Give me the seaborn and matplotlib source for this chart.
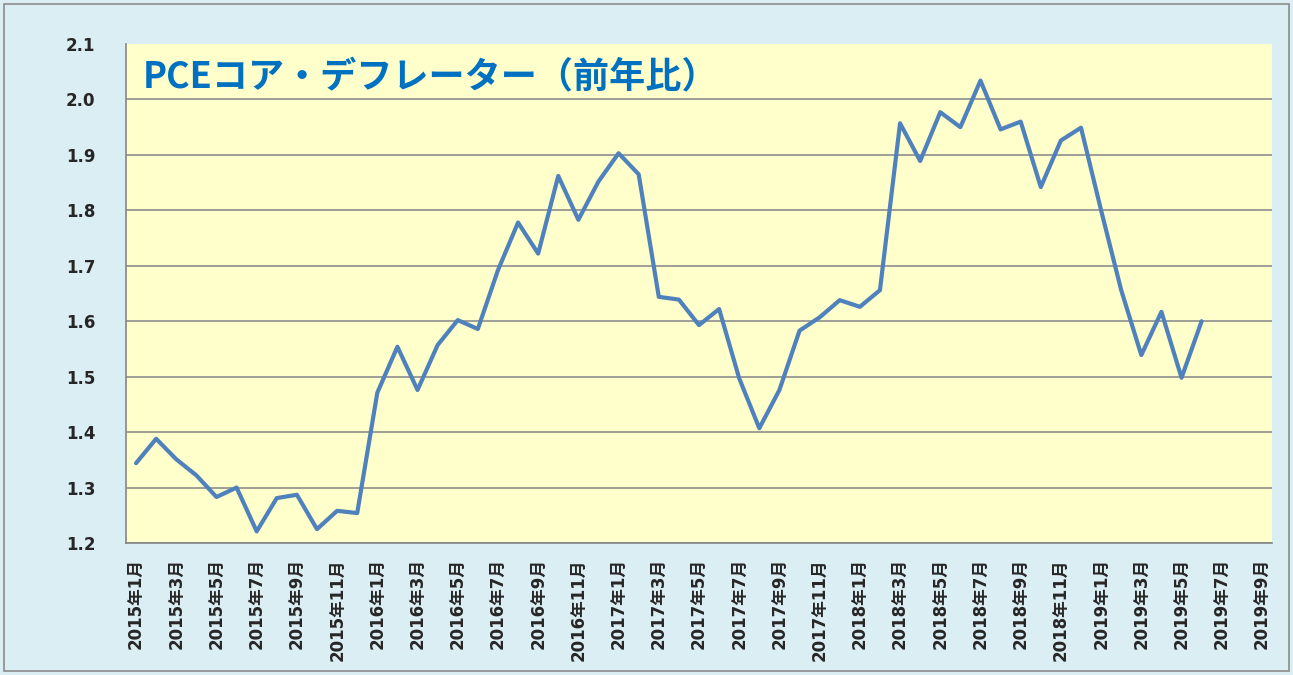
import numpy as np
import pandas as pd
import matplotlib
matplotlib.use("Agg")
import matplotlib.pyplot as plt
from matplotlib.patches import Rectangle
import seaborn as sns

TITLE = "PCEコア・デフレーター（前年比）"

# categories: monthly, 2015年1月 .. 2019年9月
years = [2015, 2016, 2017, 2018, 2019]
months = [f"{y}年{m}月" for y in years for m in range(1, 13)][:57]

# PCE core deflator, y/y % (2015-01 .. 2019-06)
pce_core = [
    1.344, 1.388, 1.351, 1.322, 1.283, 1.300, 1.221, 1.281, 1.287, 1.225, 1.258, 1.254,  # 2015
    1.471, 1.554, 1.476, 1.557, 1.602, 1.586, 1.692, 1.778, 1.722, 1.862, 1.783, 1.852,  # 2016
    1.903, 1.865, 1.644, 1.639, 1.593, 1.622, 1.497, 1.407, 1.476, 1.583, 1.607, 1.638,  # 2017
    1.626, 1.656, 1.957, 1.889, 1.977, 1.950, 2.034, 1.946, 1.960, 1.842, 1.926, 1.949,  # 2018
    1.800, 1.656, 1.539, 1.617, 1.498, 1.600,                                              # 2019
]

y_ticks = [1.2, 1.3, 1.4, 1.5, 1.6, 1.7, 1.8, 1.9, 2.0, 2.1]

BG = "#dbeef4"
PLOT_BG = "#ffffcc"
GRID = "#8e8e8e"
LINE = "#4f81bd"
TITLE_COLOR = "#0070c0"
CJK = ["DejaVu Sans", "Noto Sans CJK JP"]

sns.set_style("white")
plt.rcParams["font.family"] = CJK

df = pd.DataFrame({
    "month": months[:len(pce_core)],
    "pos": np.arange(len(pce_core)),
    "value": pce_core,
})

W, H = 1293, 675
fig = plt.figure(figsize=(W / 100, H / 100), dpi=100, facecolor=BG)
ax = fig.add_axes([126 / W, 1 - 543 / H, (1272 - 126) / W, (543 - 44) / H])
ax.set_facecolor(PLOT_BG)

sns.lineplot(data=df, x="pos", y="value", color=LINE, linewidth=3.0, ax=ax, zorder=3)

ax.set_xlim(-0.5, len(months) - 0.5)
ax.set_ylim(y_ticks[0], y_ticks[-1])

# y axis
ax.set_yticks(y_ticks)
ax.set_yticklabels([f"{v:.1f}" for v in y_ticks], fontsize=12, fontweight="bold",
                   family="DejaVu Sans")
ax.tick_params(axis="y", direction="out", length=6, width=1.2, color="#868686", pad=16)
ax.yaxis.grid(True, color=GRID, linewidth=1.2)
ax.get_ygridlines()[-1].set_visible(False)

# x axis: tick marks on category boundaries, labels at category centres
ax.set_xticks(np.arange(-0.5, len(months) - 1, 2))
ax.set_xticklabels([])
ax.set_xticks(np.arange(0, len(months), 2), minor=True)
ax.set_xticklabels(months[::2], minor=True, rotation=90, fontsize=12, fontweight="bold",
                   family=CJK, va="top", ha="center")
ax.tick_params(axis="x", which="major", direction="out", length=6, width=1.2, color="#868686")
ax.tick_params(axis="x", which="minor", length=0, pad=11)

for s in ["top", "right"]:
    ax.spines[s].set_visible(False)
for s in ["left", "bottom"]:
    ax.spines[s].set_color("#868686")
    ax.spines[s].set_linewidth(1.2)

ax.set_xlabel("")
ax.set_ylabel("")

ax.text(0.015, 0.932, TITLE, transform=ax.transAxes, fontsize=26, fontweight="bold",
        color=TITLE_COLOR, family="Noto Sans CJK JP", ha="left", va="center")

fig.patches.append(Rectangle((4 / W, 4 / H), (1289 - 4) / W, (671 - 4) / H,
                             transform=fig.transFigure, fill=False,
                             edgecolor="#8c8c8c", linewidth=1.2))

fig.savefig("out.png", dpi=100, facecolor=BG)
